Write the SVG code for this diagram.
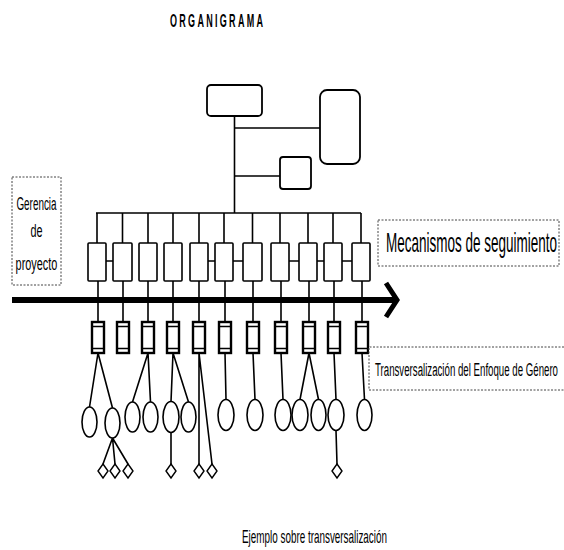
<svg xmlns="http://www.w3.org/2000/svg" width="564" height="550" viewBox="0 0 564 550">
<style>
.ln{stroke:#000;stroke-width:1.6;fill:none}
.bx{fill:#fff;stroke:#000;stroke-width:1.8}
.ub{fill:#fff;stroke:#000;stroke-width:1.6}
.lb{fill:#fff;stroke:#000;stroke-width:2.4}
.band{stroke:#000;stroke-width:1.6}
.el{fill:#fff;stroke:#000;stroke-width:1.6}
.dm{fill:#fff;stroke:#000;stroke-width:1.4}
.dot{fill:#fff;stroke:#444;stroke-width:1;stroke-dasharray:2 1.5}
.t{font-family:"Liberation Sans",Arial,sans-serif;fill:#000}
</style>
<rect width="564" height="550" fill="#fff"/>
<text class="t" transform="translate(170,27) scale(0.5,1)" x="0" y="0" font-size="18" font-weight="bold" textLength="186" lengthAdjust="spacing">ORGANIGRAMA</text>

<g id="connectors">
<path class="ln" d="M234.5 116V213M234.5 128H320M234.5 176H280M96 213H361"/>
<path class="ln" d="M97 213V243M122.5 213V243M148 213V243M173 213V243M199 213V243M224 213V243M252.5 213V243M280 213V243M308 213V243M333 213V243M361 213V243"/>
<path class="ln" d="M106 261H113M208 261H215M233 261H243M289 261H299M317 261H324M342 261H352"/>
<path class="ln" d="M98 281V322M123 281V322M148 281V322M173 281V322M199 281V322M225 281V322M253 281V322M281 281V322M309 281V322M334 281V322M362 281V322"/>
<path class="ln" d="M98 353L89.5 407M98 353L112.5 408M148 353L132.5 402M148 353L150.5 402M173 353L171 401.5M173 353L188.5 402M199 353V464M199 353L212 464M225 353L226 399.5M253 353L255 399.5M281 353L283 399.5M309 353L300 399.5M309 353L318.5 399.5M334 353L336 399.5M362 353L364.5 399.5"/>
<path class="ln" d="M112.5 438L103 464M112.5 438L115 464M112.5 438L128 464M171 432.5V464M336 430.5L337 464"/>
<line x1="12" y1="300" x2="395" y2="300" stroke="#000" stroke-width="6"/>
<polyline points="386,283 397,300 386,317" fill="none" stroke="#000" stroke-width="5"/>
</g>

<g id="top"><rect class="bx" x="207" y="85" width="55" height="31" rx="4"/></g>
<g id="right"><rect class="bx" x="320" y="90" width="40" height="74" rx="7"/></g>
<g id="small"><rect class="bx" x="280" y="157" width="31" height="32" rx="3"/></g>

<g id="upper-boxes">
<rect class="ub" x="88" y="243" width="18" height="38" rx="1"/>
<rect class="ub" x="113" y="243" width="19" height="38" rx="1"/>
<rect class="ub" x="139" y="243" width="18" height="38" rx="1"/>
<rect class="ub" x="164" y="243" width="18" height="38" rx="1"/>
<rect class="ub" x="190" y="243" width="18" height="38" rx="1"/>
<rect class="ub" x="215" y="243" width="18" height="38" rx="1"/>
<rect class="ub" x="243" y="243" width="19" height="38" rx="1"/>
<rect class="ub" x="271" y="243" width="18" height="38" rx="1"/>
<rect class="ub" x="299" y="243" width="18" height="38" rx="1"/>
<rect class="ub" x="324" y="243" width="18" height="38" rx="1"/>
<rect class="ub" x="352" y="243" width="18" height="38" rx="1"/>
</g>

<g id="lower-boxes">
<rect class="lb" x="92" y="322" width="12" height="31"/>
<rect class="lb" x="117" y="322" width="12" height="31"/>
<rect class="lb" x="142" y="322" width="12" height="31"/>
<rect class="lb" x="167" y="322" width="12" height="31"/>
<rect class="lb" x="193" y="322" width="12" height="31"/>
<rect class="lb" x="219" y="322" width="12" height="31"/>
<rect class="lb" x="247" y="322" width="12" height="31"/>
<rect class="lb" x="275" y="322" width="12" height="31"/>
<rect class="lb" x="303" y="322" width="12" height="31"/>
<rect class="lb" x="328" y="322" width="12" height="31"/>
<rect class="lb" x="356" y="322" width="12" height="31"/>
<path class="band" d="M92 326.5h12M92 348.5h12M117 326.5h12M117 348.5h12M142 326.5h12M142 348.5h12M167 326.5h12M167 348.5h12M193 326.5h12M193 348.5h12M219 326.5h12M219 348.5h12M247 326.5h12M247 348.5h12M275 326.5h12M275 348.5h12M303 326.5h12M303 348.5h12M328 326.5h12M328 348.5h12M356 326.5h12M356 348.5h12"/>
</g>

<g id="ellipses">
<ellipse class="el" cx="89.5" cy="422" rx="7.5" ry="15"/>
<ellipse class="el" cx="112.5" cy="423" rx="7.5" ry="15"/>
<ellipse class="el" cx="132.5" cy="417" rx="7.5" ry="15"/>
<ellipse class="el" cx="150.5" cy="417" rx="7.5" ry="15"/>
<ellipse class="el" cx="171" cy="417" rx="8" ry="15.5"/>
<ellipse class="el" cx="188.5" cy="417" rx="7.5" ry="15"/>
<ellipse class="el" cx="226" cy="415" rx="8" ry="15.5"/>
<ellipse class="el" cx="255" cy="415" rx="8" ry="15.5"/>
<ellipse class="el" cx="283" cy="415" rx="8" ry="15.5"/>
<ellipse class="el" cx="300" cy="415" rx="8" ry="15.5"/>
<ellipse class="el" cx="318.5" cy="415" rx="7.5" ry="15.5"/>
<ellipse class="el" cx="336" cy="415" rx="8" ry="15.5"/>
<ellipse class="el" cx="364.5" cy="415" rx="7.5" ry="15.5"/>
</g>

<g id="diamonds">
<polygon class="dm" points="103,464 108,471 103,478 98,471"/>
<polygon class="dm" points="115,464 120,471 115,478 110,471"/>
<polygon class="dm" points="128,464 133,471 128,478 123,471"/>
<polygon class="dm" points="171,464 176,471 171,478 166,471"/>
<polygon class="dm" points="199,464 204,471 199,478 194,471"/>
<polygon class="dm" points="212,464 217,471 212,478 207,471"/>
<polygon class="dm" points="337,464 342,471 337,478 332,471"/>
</g>

<g id="gerencia">
<rect class="dot" x="12" y="177" width="49" height="108"/>
<text class="t" transform="translate(36.5,210) scale(0.55,1)" x="0" y="0" font-size="19" text-anchor="middle" textLength="73" lengthAdjust="spacingAndGlyphs">Gerencia</text>
<text class="t" transform="translate(36.5,237) scale(0.55,1)" x="0" y="0" font-size="19" text-anchor="middle" textLength="22" lengthAdjust="spacingAndGlyphs">de</text>
<text class="t" transform="translate(36.5,270) scale(0.55,1)" x="0" y="0" font-size="19" text-anchor="middle" textLength="76" lengthAdjust="spacingAndGlyphs">proyecto</text>
</g>

<g id="mecanismos">
<rect class="dot" x="378" y="220" width="181" height="46"/>
<text class="t" transform="translate(386,252) scale(0.5,1)" x="0" y="0" font-size="27" textLength="342" lengthAdjust="spacingAndGlyphs">Mecanismos de seguimiento</text>
</g>

<g id="transversalizacion">
<path class="dot" d="M564 347H369V390H564"/>
<text class="t" transform="translate(375,376) scale(0.5,1)" x="0" y="0" font-size="19" textLength="366" lengthAdjust="spacingAndGlyphs">Transversalización del Enfoque de Género</text>
</g>

<text class="t" transform="translate(242,543) scale(0.5,1)" x="0" y="0" font-size="18" textLength="290" lengthAdjust="spacingAndGlyphs">Ejemplo sobre transversalización</text>
</svg>
